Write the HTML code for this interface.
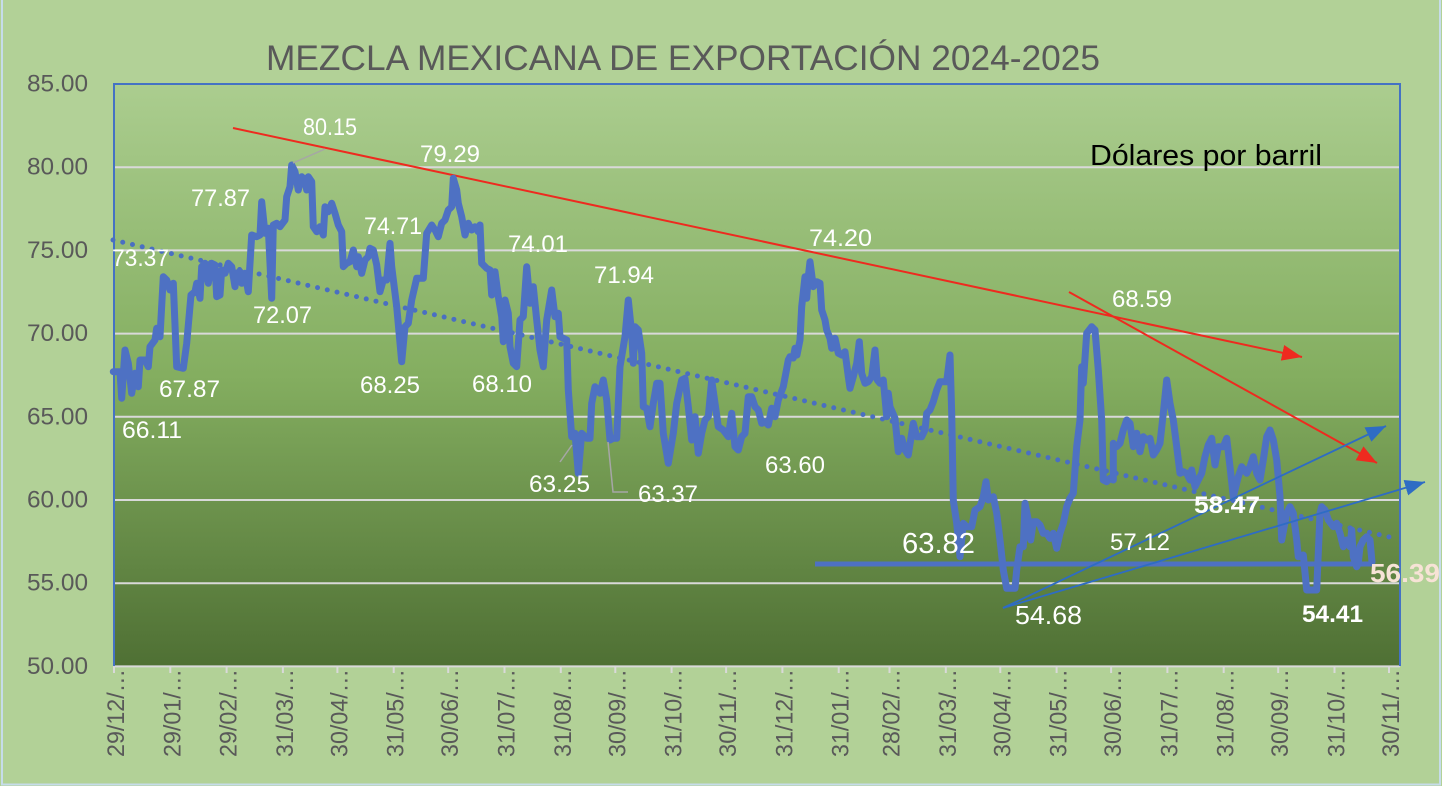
<!DOCTYPE html>
<html><head><meta charset="utf-8"><style>
html,body{margin:0;padding:0;background:#b2d197;}
svg{display:block;}
text{font-family:"Liberation Sans",Arial,sans-serif;}
</style></head><body>
<svg width="1442" height="786" viewBox="0 0 1442 786" xmlns="http://www.w3.org/2000/svg">
<defs>
<linearGradient id="pg" x1="0" y1="0" x2="0" y2="1">
<stop offset="0" stop-color="#abcd8f"/>
<stop offset="0.5" stop-color="#84ae60"/>
<stop offset="1" stop-color="#4f7034"/>
</linearGradient>
<marker id="ar" markerUnits="userSpaceOnUse" markerWidth="22" markerHeight="18" refX="20" refY="8" orient="auto"><path d="M0,0 L20,8 L0,16 z" fill="#ee2a1f"/></marker>
<marker id="ab" markerUnits="userSpaceOnUse" markerWidth="22" markerHeight="18" refX="20" refY="8" orient="auto"><path d="M0,0 L20,8 L0,16 z" fill="#2e6cc4"/></marker>
</defs>
<rect x="0" y="0" width="1442" height="786" fill="#b2d197"/>
<path d="M2,0 V784.5 H1440 V0" fill="none" stroke="#c6dcea" stroke-width="2"/>

<rect x="114" y="84" width="1286" height="582" fill="url(#pg)"/>
<g stroke="#d9d9d9" stroke-width="2">
<line x1="114" y1="167.2" x2="1400" y2="167.2"/>
<line x1="114" y1="250.4" x2="1400" y2="250.4"/>
<line x1="114" y1="333.6" x2="1400" y2="333.6"/>
<line x1="114" y1="416.8" x2="1400" y2="416.8"/>
<line x1="114" y1="500" x2="1400" y2="500"/>
<line x1="114" y1="583.2" x2="1400" y2="583.2"/>
<line x1="114" y1="666.4" x2="1400" y2="666.4"/>
</g>
<g stroke="#d9d9d9" stroke-width="2">
<line x1="114" y1="666" x2="114" y2="673"/><line x1="170.3" y1="666" x2="170.3" y2="673"/><line x1="226.6" y1="666" x2="226.6" y2="673"/><line x1="282.9" y1="666" x2="282.9" y2="673"/><line x1="337.4" y1="666" x2="337.4" y2="673"/><line x1="393.7" y1="666" x2="393.7" y2="673"/><line x1="448.2" y1="666" x2="448.2" y2="673"/><line x1="504.5" y1="666" x2="504.5" y2="673"/><line x1="560.8" y1="666" x2="560.8" y2="673"/><line x1="615.3" y1="666" x2="615.3" y2="673"/><line x1="671.6" y1="666" x2="671.6" y2="673"/><line x1="726.1" y1="666" x2="726.1" y2="673"/><line x1="782.4" y1="666" x2="782.4" y2="673"/><line x1="838.7" y1="666" x2="838.7" y2="673"/><line x1="889.5" y1="666" x2="889.5" y2="673"/><line x1="945.8" y1="666" x2="945.8" y2="673"/><line x1="1000.3" y1="666" x2="1000.3" y2="673"/><line x1="1056.6" y1="666" x2="1056.6" y2="673"/><line x1="1111.1" y1="666" x2="1111.1" y2="673"/><line x1="1167.4" y1="666" x2="1167.4" y2="673"/><line x1="1223.7" y1="666" x2="1223.7" y2="673"/><line x1="1278.2" y1="666" x2="1278.2" y2="673"/><line x1="1334.5" y1="666" x2="1334.5" y2="673"/><line x1="1389" y1="666" x2="1389" y2="673"/>
</g>
<path d="M114,666 V84 H1400 V666" fill="none" stroke="#4472c4" stroke-width="2"/>

<text x="266" y="70" font-size="35" fill="#595959" textLength="834" lengthAdjust="spacingAndGlyphs">MEZCLA MEXICANA DE EXPORTACIÓN 2024-2025</text>
<text x="1090" y="165" font-size="29" fill="#000" textLength="232" lengthAdjust="spacingAndGlyphs">Dólares por barril</text>

<g font-size="24" fill="#595959" text-anchor="end">
<text x="88" y="91.5" textLength="61" lengthAdjust="spacingAndGlyphs">85.00</text>
<text x="88" y="174.7" textLength="61" lengthAdjust="spacingAndGlyphs">80.00</text>
<text x="88" y="257.9" textLength="61" lengthAdjust="spacingAndGlyphs">75.00</text>
<text x="88" y="341.1" textLength="61" lengthAdjust="spacingAndGlyphs">70.00</text>
<text x="88" y="424.3" textLength="61" lengthAdjust="spacingAndGlyphs">65.00</text>
<text x="88" y="507.5" textLength="61" lengthAdjust="spacingAndGlyphs">60.00</text>
<text x="88" y="590.7" textLength="61" lengthAdjust="spacingAndGlyphs">55.00</text>
<text x="88" y="673.9" textLength="61" lengthAdjust="spacingAndGlyphs">50.00</text>
</g>

<g font-size="24" fill="#595959" text-anchor="end">
<text transform="translate(124,669) rotate(-90)" textLength="88" lengthAdjust="spacingAndGlyphs">29/12/…</text>
<text transform="translate(180.3,669) rotate(-90)" textLength="88" lengthAdjust="spacingAndGlyphs">29/01/…</text>
<text transform="translate(236.6,669) rotate(-90)" textLength="88" lengthAdjust="spacingAndGlyphs">29/02/…</text>
<text transform="translate(292.9,669) rotate(-90)" textLength="88" lengthAdjust="spacingAndGlyphs">31/03/…</text>
<text transform="translate(347.4,669) rotate(-90)" textLength="88" lengthAdjust="spacingAndGlyphs">30/04/…</text>
<text transform="translate(403.7,669) rotate(-90)" textLength="88" lengthAdjust="spacingAndGlyphs">31/05/…</text>
<text transform="translate(458.2,669) rotate(-90)" textLength="88" lengthAdjust="spacingAndGlyphs">30/06/…</text>
<text transform="translate(514.5,669) rotate(-90)" textLength="88" lengthAdjust="spacingAndGlyphs">31/07/…</text>
<text transform="translate(570.8,669) rotate(-90)" textLength="88" lengthAdjust="spacingAndGlyphs">31/08/…</text>
<text transform="translate(625.3,669) rotate(-90)" textLength="88" lengthAdjust="spacingAndGlyphs">30/09/…</text>
<text transform="translate(681.6,669) rotate(-90)" textLength="88" lengthAdjust="spacingAndGlyphs">31/10/…</text>
<text transform="translate(736.1,669) rotate(-90)" textLength="88" lengthAdjust="spacingAndGlyphs">30/11/…</text>
<text transform="translate(792.4,669) rotate(-90)" textLength="88" lengthAdjust="spacingAndGlyphs">31/12/…</text>
<text transform="translate(848.7,669) rotate(-90)" textLength="88" lengthAdjust="spacingAndGlyphs">31/01/…</text>
<text transform="translate(899.5,669) rotate(-90)" textLength="88" lengthAdjust="spacingAndGlyphs">28/02/…</text>
<text transform="translate(955.8,669) rotate(-90)" textLength="88" lengthAdjust="spacingAndGlyphs">31/03/…</text>
<text transform="translate(1010.3,669) rotate(-90)" textLength="88" lengthAdjust="spacingAndGlyphs">30/04/…</text>
<text transform="translate(1066.6,669) rotate(-90)" textLength="88" lengthAdjust="spacingAndGlyphs">31/05/…</text>
<text transform="translate(1121.1,669) rotate(-90)" textLength="88" lengthAdjust="spacingAndGlyphs">30/06/…</text>
<text transform="translate(1177.4,669) rotate(-90)" textLength="88" lengthAdjust="spacingAndGlyphs">31/07/…</text>
<text transform="translate(1233.7,669) rotate(-90)" textLength="88" lengthAdjust="spacingAndGlyphs">31/08/…</text>
<text transform="translate(1288.2,669) rotate(-90)" textLength="88" lengthAdjust="spacingAndGlyphs">30/09/…</text>
<text transform="translate(1344.5,669) rotate(-90)" textLength="88" lengthAdjust="spacingAndGlyphs">31/10/…</text>
<text transform="translate(1399,669) rotate(-90)" textLength="88" lengthAdjust="spacingAndGlyphs">30/11/…</text>
</g>

<line x1="113" y1="240" x2="1398" y2="539" stroke="#4a6fc2" stroke-width="5" stroke-linecap="round" stroke-dasharray="0 10"/>

<line x1="233" y1="128" x2="1302" y2="357" stroke="#ee2a1f" stroke-width="2" marker-end="url(#ar)"/>
<line x1="1069" y1="292" x2="1377" y2="463" stroke="#ee2a1f" stroke-width="2" marker-end="url(#ar)"/>

<polyline fill="none" stroke="#4e71c3" stroke-width="7" stroke-linejoin="round" stroke-linecap="round" points="
113.3,371.7 120,371.7 121.7,398.3 125,350 128.3,363.3 131.7,393.3 135,373.3 138.3,386.7 140,360 145,360 148.3,366.7 150,346.7 155,340 156.7,328.3 160,336.7 163.3,276.7 166.7,280 170,290 173.3,283.3 176.7,366.7 183.3,368.3 186.7,343.3 191,295 195,291.7 196.7,283.3 200,298.3 201.7,266.7 205,263.3 208.3,283.3 211.7,263.3 215,265 216.7,296.7 220,295 221.7,270 225,273.3 228.3,263.3 231.7,266.7 235,286.7 236.7,273.3 240,271.7 241.7,283.3 245,273.3 248.3,291.7 251.7,235 256.7,236.7 260,235 261.7,201.7 265,233.3 268.3,228.3 271.7,298.3 273.3,225 276.7,223.3 280,226.7 285,220 286.7,196.7 290,186.7 291.7,165 295,171.7 298.3,190 301.7,176.7 305,180 306.7,190 308.3,176.7 311.7,181.7 313.3,226.7 316.7,231.7 320,226.7 323.3,235 325,206.7 328.3,211.7 331.7,203.3 335,213.3 338.3,225 341.7,231.7 343.3,266.7 346.7,263.3 350,261.7 353.3,250 356.7,266.7 358.3,256.7 361.7,273.3 365,260 368.3,256.7 370,248.3 373.3,250 376.7,265 380,291.7 383.3,280 386.7,280 390,243.3 391.7,266.7 396.7,306.7 401.7,361.7 405,326.7 408.3,323.3 411.7,300 416.7,278.3 423.3,278.3 426.7,233.3 431.7,225 435,230 438.3,236.7 441.7,223.3 445,220 448.3,210 451.7,206.7 453.3,178.3 456.7,190 458.3,203.3 461.7,216.7
465,235 468.3,223.3 471.7,230 475,226.7 478.3,231.7 480,225 481.7,263.3 486.7,268.3 490,270 491.7,295 495,271.7 498.3,296.7 501.7,316.7 503.3,341.7 505,300 508.3,313.3 510,346.7 513.3,363.3 516.7,366.7 520,320 523.3,316.7 526.7,266.7 530,303.3 533.3,286.7 536.7,320 540,350 543.3,366.7 546.7,320 551.7,290 555,316.7 558.3,313.3 560,336.7 563.3,338.3 566.7,340 568.3,390 571.7,436.7 575,433.3 578.3,473.3 581.7,433.3 586.7,438.3 590,438.3 591.7,403.3 595,386.7 600,393.3 603.3,380 606.7,400 610,440 613.3,438.3 616.7,438.3 620,366.7 625,336.7 628.3,300 631.7,333.3 633.3,363.3 635,326.7 638.3,330 641.7,353.3 643.3,406.7 646.7,408.3 650,426.7 653.3,403.3 656.7,383.3 660,383.3 663.3,433.3 668.3,463.3 673.3,433.3 676.7,403.3 681.7,380 685,378.3 688.3,406.7 691.7,440 695,416.7 698.3,453.3 701.7,433.3 705,420 708.3,416.7 711.7,380 715,403.3 718.3,426.7 723.3,430 728.3,436.7 731.7,413.3 735,446.7 738.3,450 741.7,436.7 745,433.3 748.3,396.7 751.7,396.7 755,406.7 758.3,410 761.7,423.3 765,421.7 768.3,425 771.7,408.3 775,416.7 778.3,400 783.3,386.7 788.3,360
790,356.7 793.3,358 795,348.3 797,355 800,340 801.7,306.7 805,276.7 806.7,298.3 808.3,276.7 810,261.7 813.3,286.7 816.7,281.7 820,283.3 821.7,310 825,320 826.7,330 830,338.3 831.7,348.3 835,338.3 838.3,353.3 841.7,355 845,351.7 848.3,376.7 850,388.3 853.3,376.7 856.7,363.3 859.3,341.7 861.7,373.3 865,383.3 868.3,381.7 871.7,376.7 875,350 877.3,380 880,383.3 883.3,380 886.7,416.7 888.3,393.3 890,406.7 895,418.3 898.3,451.7 901.7,438.3 905,450 908.3,455 911.7,433.3 913.3,423.3 916.7,436.7 921.7,436.7 925,430 926.7,413.3 930,410 933.3,401.7 936.7,390 940,381.7 946.7,381.7 950,355 951.7,413.3 953.3,500 956.7,523.3 960,556.7 963.3,523.3 966.7,526.7 971.7,526.7 975,510 980,506.7 983.3,496.7 986,481.7 988.3,500 993.3,496.7 996.7,513.3 1000,540 1003.3,570 1006.7,588.3 1015,588.3 1016.7,570 1020,546.7 1023.3,546.7 1025,503.3 1028.3,520 1030.7,540 1033.3,521.7 1036.7,521.7 1040,525 1043.3,533.3 1046.7,533.3 1050,538.3 1053.3,533.3 1056.7,548.3 1060,533.3 1063.3,523.3 1066.7,506.7 1070,498.3 1073.3,493.3 1076.7,446.7 1080,420 1081.7,366.7 1083.3,383.3 1086.7,333.3 1091.7,326.7 1095,330 1098.3,370 1101.7,420 1103.3,480 1106.7,481.7 1110,478.3 1113.3,480
1113.3,443.3 1116.7,446.7 1120,443.3 1123.3,430 1126.7,420 1130,423.3 1133.3,446.7 1136.7,433.3 1140,451.7 1143.3,436.7 1146.7,440 1150,438.3 1153.3,455 1156.7,450 1160,443.3 1163.3,413.3 1166.7,380 1170,403.3 1173.3,420 1176.7,446.7 1180,473.3 1183.3,471.7 1186.7,473.3 1190,480 1191.7,470 1195,486.7 1198.3,480 1201.7,473.3 1205,456.7 1208.3,445 1211.7,438.3 1215,465 1218.3,446.7 1223.3,446.7 1226.7,438.3 1230,466.7 1233.3,496.7 1238.3,476.7 1241.7,466.7 1246.7,473.3 1250,466.7 1253.3,456.7 1256.7,473.3 1260,480 1263.3,460 1266.7,436.7 1270,430 1273.3,440 1276.7,460 1280,496.7 1281.7,540 1286.7,513.3 1290,506.7 1293.3,513.3 1296.7,540 1298.3,556.7 1303.3,555 1306.7,590 1316.7,590 1320,513.3 1321.7,506.7 1325,510 1328.3,520 1333.3,526.7 1336.7,523.3 1340,533.3 1343.3,546.7 1346.7,540 1350,546.7 1351.7,530 1353.3,556.7 1356.7,566.7 1358.3,563.3 1360,546.7 1363.3,540 1366.7,536.7 1370,540 1372,562"/>

<line x1="815" y1="564" x2="1374" y2="564" stroke="#4e71c3" stroke-width="5"/>

<line x1="1003" y1="608" x2="1386" y2="426" stroke="#2e6cc4" stroke-width="1.8" marker-end="url(#ab)"/>
<line x1="1003" y1="608" x2="1425" y2="482" stroke="#2e6cc4" stroke-width="1.8" marker-end="url(#ab)"/>

<g stroke="#a6a6a6" stroke-width="1.5" fill="none">
<line x1="293" y1="163" x2="325" y2="149"/>
<line x1="560" y1="462" x2="572" y2="445"/>
<polyline points="608,442 613,492 628,492"/>
</g>

<g font-size="24" fill="#ffffff">
<text x="112" y="266" textLength="57" lengthAdjust="spacingAndGlyphs">73.37</text>
<text x="122" y="438" textLength="60" lengthAdjust="spacingAndGlyphs">66.11</text>
<text x="159" y="397" textLength="61" lengthAdjust="spacingAndGlyphs">67.87</text>
<text x="191" y="206" textLength="59" lengthAdjust="spacingAndGlyphs">77.87</text>
<text x="303" y="135" textLength="54" lengthAdjust="spacingAndGlyphs">80.15</text>
<text x="253" y="323" textLength="59" lengthAdjust="spacingAndGlyphs">72.07</text>
<text x="364" y="234" textLength="58" lengthAdjust="spacingAndGlyphs">74.71</text>
<text x="360" y="393" textLength="60" lengthAdjust="spacingAndGlyphs">68.25</text>
<text x="420" y="162" textLength="60" lengthAdjust="spacingAndGlyphs">79.29</text>
<text x="508" y="252" textLength="60" lengthAdjust="spacingAndGlyphs">74.01</text>
<text x="594" y="283" textLength="60" lengthAdjust="spacingAndGlyphs">71.94</text>
<text x="472" y="392" textLength="60" lengthAdjust="spacingAndGlyphs">68.10</text>
<text x="529" y="492" textLength="61" lengthAdjust="spacingAndGlyphs">63.25</text>
<text x="638" y="502" textLength="60" lengthAdjust="spacingAndGlyphs">63.37</text>
<text x="765" y="473" textLength="60" lengthAdjust="spacingAndGlyphs">63.60</text>
<text x="809" y="246" textLength="63" lengthAdjust="spacingAndGlyphs">74.20</text>
<text x="902" y="553" font-size="29" textLength="73" lengthAdjust="spacingAndGlyphs">63.82</text>
<text x="1015" y="624" font-size="26" textLength="67" lengthAdjust="spacingAndGlyphs">54.68</text>
<text x="1110" y="550" textLength="60" lengthAdjust="spacingAndGlyphs">57.12</text>
<text x="1112" y="307" textLength="60" lengthAdjust="spacingAndGlyphs">68.59</text>
<text x="1194" y="513" font-weight="bold" textLength="66" lengthAdjust="spacingAndGlyphs">58.47</text>
<text x="1302" y="622" font-weight="bold" textLength="61" lengthAdjust="spacingAndGlyphs">54.41</text>
<text x="1370" y="582" font-size="26" font-weight="bold" fill="#f7e3d6" textLength="70" lengthAdjust="spacingAndGlyphs">56.39</text>
</g>
</svg>
</body></html>
